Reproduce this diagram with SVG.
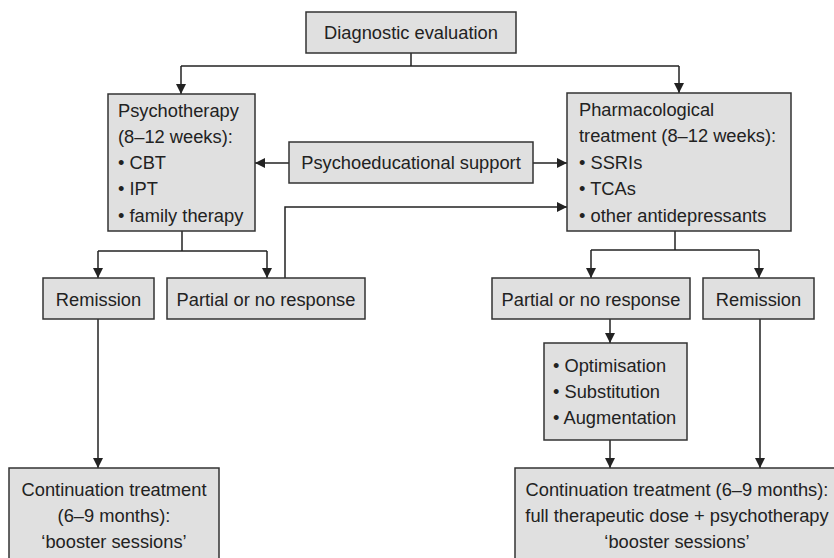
<svg xmlns="http://www.w3.org/2000/svg" width="834" height="558" viewBox="0 0 834 558">
<style>
.box{fill:#e0e0e0;stroke:#333;stroke-width:1.5}
text{font-family:"Liberation Sans",Arial,sans-serif;font-size:18.3px;fill:#222}
.c{text-anchor:middle}
.conn path{fill:none;stroke:#222;stroke-width:1.5}
.arr{marker-end:url(#ah)}
</style>
<defs>
<marker id="ah" markerUnits="userSpaceOnUse" markerWidth="11" markerHeight="11" refX="10" refY="5" orient="auto">
<path d="M0,0 L10,5 L0,10 z" fill="#222"/>
</marker>
</defs>
<rect width="834" height="558" fill="#fff"/>
<g class="conn">
<path d="M411,53 V66"/>
<path d="M181,66 H679"/>
<path class="arr" d="M181,66 V94"/>
<path class="arr" d="M679,66 V93"/>
<path class="arr" d="M289,163 H255"/>
<path class="arr" d="M533,163 H567"/>
<path class="arr" d="M285,278 V207 H567"/>
<path d="M182,231 V251"/>
<path d="M98,251 H267"/>
<path class="arr" d="M98,251 V278"/>
<path class="arr" d="M267,251 V278"/>
<path d="M675,231 V250"/>
<path d="M591,250 H759"/>
<path class="arr" d="M591,250 V278"/>
<path class="arr" d="M759,250 V278"/>
<path class="arr" d="M610,319 V343"/>
<path class="arr" d="M98,319 V468"/>
<path class="arr" d="M610,440 V468"/>
<path class="arr" d="M760,319 V468"/>
</g>
<g id="diagnostic">
<rect class="box" x="306" y="12" width="210" height="41"/>
<text class="c" x="411" y="39">Diagnostic evaluation</text>
</g>
<g id="psychotherapy">
<rect class="box" x="108" y="94" width="147" height="137"/>
<text x="118" y="116.5">Psychotherapy</text>
<text x="118" y="142.5">(8–12 weeks):</text>
<text x="118" y="168.5">• CBT</text>
<text x="118" y="195">• IPT</text>
<text x="118" y="221.5">• family therapy</text>
</g>
<g id="pharmacological">
<rect class="box" x="567" y="93" width="224" height="138"/>
<text x="579" y="115.5">Pharmacological</text>
<text x="579" y="142">treatment (8–12 weeks):</text>
<text x="579" y="168.5">• SSRIs</text>
<text x="579" y="195">• TCAs</text>
<text x="579" y="221.5">• other antidepressants</text>
</g>
<g id="psychoeducational">
<rect class="box" x="289" y="142" width="244" height="41"/>
<text class="c" x="411" y="169">Psychoeducational support</text>
</g>
<g id="remission-left">
<rect class="box" x="43" y="278" width="111" height="41"/>
<text class="c" x="98.5" y="306">Remission</text>
</g>
<g id="partial-left">
<rect class="box" x="167" y="278" width="198" height="41"/>
<text class="c" x="266" y="306">Partial or no response</text>
</g>
<g id="partial-right">
<rect class="box" x="492" y="278" width="198" height="41"/>
<text class="c" x="591" y="306">Partial or no response</text>
</g>
<g id="remission-right">
<rect class="box" x="703" y="278" width="111" height="41"/>
<text class="c" x="758.5" y="306">Remission</text>
</g>
<g id="options">
<rect class="box" x="544" y="343" width="143" height="97"/>
<text x="553" y="372">• Optimisation</text>
<text x="553" y="398">• Substitution</text>
<text x="553" y="424">• Augmentation</text>
</g>
<g id="continuation-left">
<rect class="box" x="9" y="468" width="210" height="100"/>
<text class="c" x="114" y="496">Continuation treatment</text>
<text class="c" x="114" y="522">(6–9 months):</text>
<text class="c" x="114" y="548">‘booster sessions’</text>
</g>
<g id="continuation-right">
<rect class="box" x="515" y="468" width="330" height="100"/>
<text class="c" x="677" y="496">Continuation treatment (6–9 months):</text>
<text class="c" x="677" y="522">full therapeutic dose + psychotherapy</text>
<text class="c" x="677" y="548">‘booster sessions’</text>
</g>
</svg>
